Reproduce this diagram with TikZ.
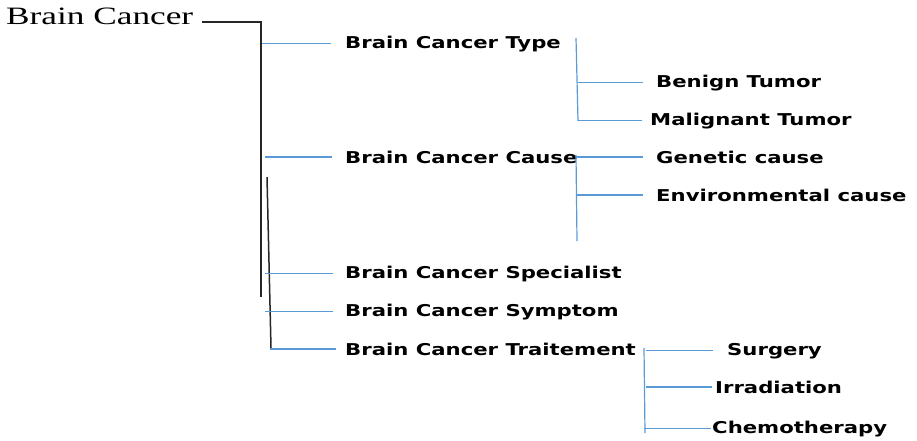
\documentclass[tikz,border=0pt]{standalone}
\usepackage{fontspec}
\setmainfont{Liberation Serif}
\setsansfont{DejaVu Sans}
\usepackage{tikz}
\usetikzlibrary{positioning,calc}

\definecolor{lineblue}{RGB}{91,155,213}
\newcommand{\widetext}[2][1.3]{\scalebox{#1}[1]{#2}}

\begin{document}
\begin{tikzpicture}[
    x=1pt, y=-1pt,
    topic/.style={anchor=base west, inner sep=0pt, font=\sffamily\bfseries\fontsize{16.3}{19}\selectfont},
    bline/.style={draw=lineblue, line width=1.2pt},
    kline/.style={draw=black!85, line width=1.5pt}
]
    \useasboundingbox (0,0) rectangle (917,440);

    % root
    \node[anchor=base west, inner sep=0pt, font=\fontsize{25}{29}\selectfont] (root) at (6,24) {\widetext[1.41]{Brain Cancer}};

    % main topics
    \node[topic] (type) at (345,48) {\widetext{Brain Cancer Type}};
    \node[topic] (cause) at (345,163) {\widetext{Brain Cancer Cause}};
    \node[topic] (spec) at (345,278) {\widetext{Brain Cancer Specialist}};
    \node[topic] (symp) at (345,316) {\widetext{Brain Cancer Symptom}};
    \node[topic] (trait) at (345,355) {\widetext{Brain Cancer Traitement}};

    % sub topics
    \node[topic] (benign) at (656,87) {\widetext{Benign Tumor}};
    \node[topic] (malig) at (650,125) {\widetext{Malignant Tumor}};
    \node[topic] (genet) at (656,163) {\widetext{Genetic cause}};
    \node[topic] (envir) at (656,201) {\widetext{Environmental cause}};
    \node[topic] (surg) at (727,355) {\widetext{Surgery}};
    \node[topic] (irrad) at (715,393) {\widetext{Irradiation}};
    \node[topic] (chemo) at (712,433) {\widetext{Chemotherapy}};

    % spines
    \coordinate (trunk) at (261,297);
    \coordinate (trunkB) at (267,177);
    \coordinate (trunkE) at (271,348);
    \coordinate (typeA) at (576,38);
    \coordinate (typeB) at (578,121);
    \coordinate (causeA) at (576,155);
    \coordinate (causeB) at (577,241);
    \coordinate (traitA) at (644,348);
    \coordinate (traitB) at (645,433);

    \draw[kline] ([xshift=9pt,yshift=2pt]root.base east) -| (trunk);
    \draw[kline] (trunkB) -- (trunkE);

    \draw[bline] (typeA) -- (typeB);
    \draw[bline] (causeA) -- (causeB);
    \draw[bline] (traitA) -- (traitB);

    % branches
    \draw[bline] ([xshift=1pt]trunk |- type.west) -- ([xshift=-14pt]type.west);
    \draw[bline] ([xshift=4pt]trunk |- cause.west) -- ([xshift=-13pt]cause.west);
    \draw[bline] ([xshift=4pt]trunk |- spec.west) -- ([xshift=-12pt]spec.west);
    \draw[bline] ([xshift=4pt]trunk |- symp.west) -- ([xshift=-12pt]symp.west);
    \draw[bline] ([xshift=-1pt]trunkE |- trait.west) -- ([xshift=-9pt]trait.west);

    \draw[bline] (typeB |- benign.west) -- ([xshift=-13pt]benign.west);
    \draw[bline] (typeB |- malig.west) -- ([xshift=-8pt]malig.west);
    \draw[bline] (causeA |- genet.west) -- ([xshift=-13pt]genet.west);
    \draw[bline] (causeB |- envir.west) -- ([xshift=-13pt]envir.west);
    \draw[bline] ([xshift=2pt]traitA |- surg.west) -- ([xshift=-14pt]surg.west);
    \draw[bline] ([xshift=2pt]traitA |- irrad.west) -- ([xshift=-3pt]irrad.west);
    \draw[bline] (traitA |- chemo.west) -- ([xshift=-1pt]chemo.west);
\end{tikzpicture}
\end{document}
